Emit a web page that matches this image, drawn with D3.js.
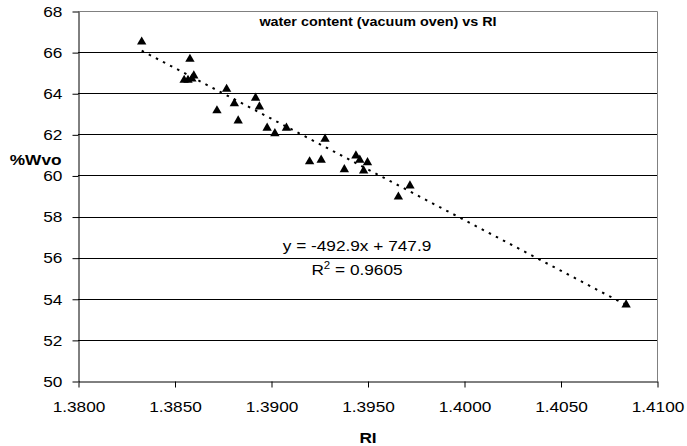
<!DOCTYPE html>
<html>
<head>
<meta charset="utf-8">
<script src="https://cdn.jsdelivr.net/npm/d3@7"></script>
<style>
  body { margin: 0; background: #fff; }
  svg { display: block; font-family: "Liberation Sans", Arial, sans-serif; }
</style>
</head>
<body>
<svg id="chart" width="687" height="446"></svg>
<script>
// readings
const ri = [1.3833, 1.3858, 1.3860, 1.3855, 1.3857, 1.3859, 1.3877, 1.3892, 1.3881,
  1.3894, 1.3872, 1.3883, 1.3898, 1.3902, 1.3908, 1.3928, 1.3920, 1.3926,
  1.3944, 1.3946, 1.3950, 1.3938, 1.3948, 1.3972, 1.3966, 1.4084]
const wvo = [66.55, 65.71, 64.90, 64.69, 64.69, 64.75, 64.25, 63.82, 63.55,
  63.39, 63.20, 62.71, 62.36, 62.09, 62.36, 61.82, 60.72, 60.80,
  61.01, 60.80, 60.68, 60.34, 60.28, 59.55, 59.01, 53.76]

const xTicks = [1.38, 1.385, 1.39, 1.395, 1.40, 1.405, 1.41]
const yTicks = [50, 52, 54, 56, 58, 60, 62, 64, 66, 68]

// linear trend from the chart label
const slope = -492.9
const intercept = 747.9
const rSquared = '0.9605'

const svg = d3.select('#chart')
const plotLeft = 78, plotRight = 657, plotTop = 11, plotBottom = 381
const stretch = 'scale(1.15,1)' // the original text is set a bit wide

const x = d3.scaleLinear().domain([1.38, 1.41]).range([plotLeft, plotRight])
const y = d3.scaleLinear().domain([50, 68]).range([plotBottom, plotTop])

/* Gridlines */
svg.append('g')
  .selectAll('line')
  .data(yTicks.filter(d => d > 50 && d < 68))
  .join('line')
    .attr('x1', plotLeft)
    .attr('x2', plotRight)
    .attr('y1', d => Math.round(y(d)) + 0.5)
    .attr('y2', d => Math.round(y(d)) + 0.5)
    .attr('stroke', '#000')
    .attr('stroke-width', 1)

// grey border top and right
svg.append('path')
  .attr('d', `M${plotLeft},${plotTop + 0.5}H${plotRight + 0.5}V${plotBottom}`)
  .attr('fill', 'none')
  .attr('stroke', '#808080')
  .attr('stroke-width', 1)

/* Axes */
const yAxis = svg.append('g')
  .attr('transform', `translate(${plotLeft + 0.5},0.5)`)
  .call(d3.axisLeft(y).tickValues(yTicks).tickSize(6).tickPadding(8).tickSizeOuter(0))
yAxis.attr('font-family', null).attr('font-size', 15)
yAxis.selectAll('text').attr('fill', '#000').attr('transform', stretch)
yAxis.selectAll('line, path').attr('stroke', '#000')

const xAxis = svg.append('g')
  .attr('transform', `translate(0.5,${plotBottom + 0.5})`)
  .call(d3.axisBottom(x).tickValues(xTicks).tickFormat(d3.format('.4f')).tickSize(6).tickPadding(14).tickSizeOuter(0))
xAxis.attr('font-family', null).attr('font-size', 15)
xAxis.selectAll('text').attr('fill', '#000').attr('transform', stretch)
xAxis.selectAll('line, path').attr('stroke', '#000')

/* Trendline */
const xMin = d3.min(ri), xMax = d3.max(ri)
svg.append('line')
  .attr('x1', x(xMin))
  .attr('y1', y(slope * xMin + intercept))
  .attr('x2', x(xMax))
  .attr('y2', y(slope * xMax + intercept))
  .attr('stroke', '#000')
  .attr('stroke-width', 2)
  .attr('stroke-dasharray', '2.5,5.5')

/* Points */
svg.append('g')
  .selectAll('path')
  .data(ri.map((d, i) => [d, wvo[i]]))
  .join('path')
    .attr('d', d3.symbol(d3.symbolTriangle, 38))
    .attr('transform', d => `translate(${x(d[0])},${y(d[1]) + 1})`)
    .attr('fill', '#000')

/* Labels */
function label (px, py, anchor, size, bold, str) {
  return svg.append('text')
    .attr('transform', `translate(${px},${py}) ${stretch}`)
    .attr('text-anchor', anchor)
    .attr('font-size', size)
    .attr('font-weight', bold ? 'bold' : null)
    .text(str)
}

label(378, 25.5, 'middle', 12.5, true, 'water content (vacuum oven) vs RI')
label(61.5, 165, 'end', 15, true, '%Wvo')
label(368, 443, 'middle', 15, true, 'RI')
label(357, 250.5, 'middle', 15, false, `y = ${slope}x + ${intercept}`)

const r2 = label(357, 275, 'middle', 15, false, '')
r2.append('tspan').text('R')
r2.append('tspan').attr('font-size', 10).attr('dy', -6).text('2')
r2.append('tspan').attr('dy', 6).text(` = ${rSquared}`)
</script>
</body>
</html>
